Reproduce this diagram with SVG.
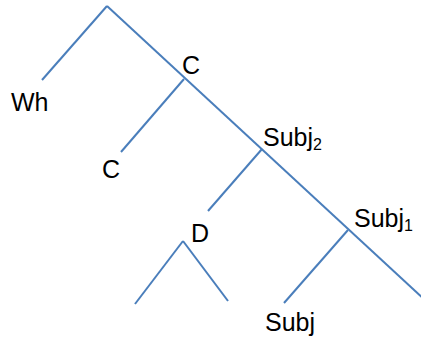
<svg xmlns="http://www.w3.org/2000/svg" width="421" height="337" viewBox="0 0 421 337">
<style>
.e{stroke:#4a7ebb;stroke-width:2;fill:none;stroke-linecap:butt}
.t{font-family:"Liberation Sans",Arial,sans-serif;font-size:25px;fill:#000}
.s{font-size:16px}
</style>
<rect width="421" height="337" fill="#fff"/>
<g id="edges">
<path class="e" d="M107,6 L42,80"/>
<path class="e" d="M107,6 L425,300"/>
<path class="e" d="M184,79 L121,152"/>
<path class="e" d="M262,149 L208,211"/>
<path class="e" d="M348,230 L284,303"/>
<path class="e" d="M183,241 L135,304"/>
<path class="e" d="M183,241 L228,301"/>
</g>
<g id="n-wh"><text class="t" x="11" y="111">Wh</text></g>
<g id="n-c1"><text class="t" x="182" y="74">C</text></g>
<g id="n-c2"><text class="t" x="102" y="178">C</text></g>
<g id="n-subj2"><text class="t" x="263" y="146">Subj<tspan class="s" dy="4">2</tspan></text></g>
<g id="n-d"><text class="t" x="191" y="242">D</text></g>
<g id="n-subj1"><text class="t" x="354" y="227">Subj<tspan class="s" dy="4">1</tspan></text></g>
<g id="n-subj"><text class="t" x="265" y="331">Subj</text></g>
</svg>
